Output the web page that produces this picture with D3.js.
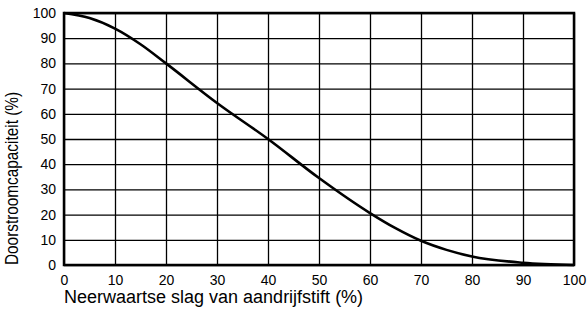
<!DOCTYPE html>
<html>
<head>
<meta charset="utf-8">
<script src="https://cdn.jsdelivr.net/npm/d3@7"></script>
<style>
  html, body { margin: 0; padding: 0; background: #fff; }
  svg text { font-family: "Liberation Sans", Arial, sans-serif; fill: #000; }
</style>
</head>
<body>
<svg id="chart" width="587" height="318"></svg>
<script>
  // Stroke position (%) vs. flow capacity (%).
  var stroke = [0, 5, 10, 15, 20, 30, 40, 50, 60, 65, 70, 75, 80, 90, 100];
  var flow = [100, 98, 93.8, 87.6, 80, 64.3, 50, 34.5, 20.6, 14.6, 9.6, 6, 3.4, 0.9, 0];
  var xTicks = [0, 10, 20, 30, 40, 50, 60, 70, 80, 90, 100];
  var yTicks = [0, 10, 20, 30, 40, 50, 60, 70, 80, 90, 100];
  var xTitle = "Neerwaartse slag van aandrijfstift (%)";
  var yTitle = "Doorstroomcapaciteit (%)";

  var margin = { top: 13, right: 13, bottom: 53, left: 64 };
  var width = 587 - margin.left - margin.right;
  var height = 318 - margin.top - margin.bottom;

  var svg = d3.select("#chart");
  var g = svg.append("g").attr("transform", "translate(" + margin.left + "," + margin.top + ")");

  var x = d3.scaleLinear().domain([0, 100]).range([0, width]);
  var y = d3.scaleLinear().domain([0, 100]).range([height, 0]);

  // Grid lines.
  g.append("g")
    .attr("transform", "translate(0," + height + ")")
    .call(d3.axisBottom(x).tickValues(xTicks).tickSize(-height).tickFormat(""))
    .call(function (s) {
      s.select(".domain").remove();
      s.selectAll("line").attr("stroke", "#000").attr("stroke-width", 1.3);
    });
  g.append("g")
    .call(d3.axisLeft(y).tickValues(yTicks).tickSize(-width).tickFormat(""))
    .call(function (s) {
      s.select(".domain").remove();
      s.selectAll("line").attr("stroke", "#000").attr("stroke-width", 1.3);
    });

  // Frame.
  g.append("rect")
    .attr("x", 0).attr("y", 0)
    .attr("width", width).attr("height", height)
    .attr("fill", "none").attr("stroke", "#000").attr("stroke-width", 2.5);

  // Tick labels.
  var xAxis = g.append("g")
    .attr("transform", "translate(0," + height + ")")
    .call(d3.axisBottom(x).tickValues(xTicks).tickSize(0).tickPadding(10));
  xAxis.select(".domain").remove();
  xAxis.selectAll("text").attr("font-size", 14).attr("font-family", null);

  var yAxis = g.append("g")
    .call(d3.axisLeft(y).tickValues(yTicks).tickSize(0).tickPadding(8));
  yAxis.select(".domain").remove();
  yAxis.selectAll("text").attr("font-size", 14).attr("font-family", null);

  // Curve.
  var line = d3.line()
    .x(function (d, i) { return x(stroke[i]); })
    .y(function (d) { return y(d); })
    .curve(d3.curveMonotoneX);
  g.append("path")
    .datum(flow)
    .attr("d", line)
    .attr("fill", "none")
    .attr("stroke", "#000")
    .attr("stroke-width", 2.6);

  // Titles.
  svg.append("text")
    .attr("x", margin.left)
    .attr("y", 303)
    .attr("font-size", 18)
    .text(xTitle);
  // The y title is set in a condensed face in the reference.
  svg.append("text")
    .attr("transform", "translate(18," + (margin.top + height) + ") rotate(-90)")
    .attr("font-size", 19)
    .attr("textLength", 173)
    .attr("lengthAdjust", "spacingAndGlyphs")
    .text(yTitle);
</script>
</body>
</html>
